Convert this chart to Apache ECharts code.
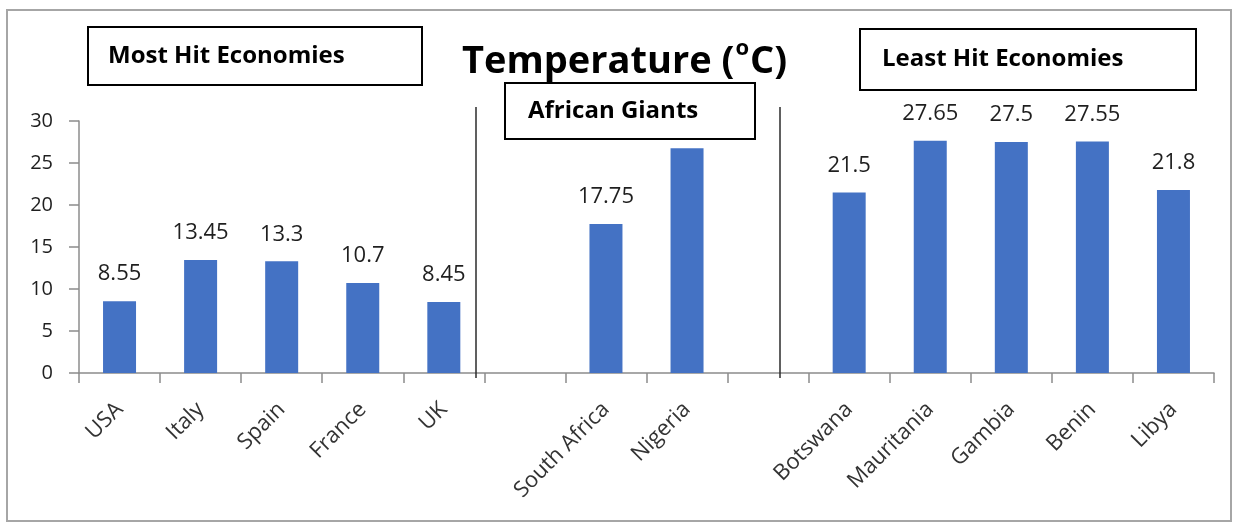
<!DOCTYPE html>
<html>
<head>
<meta charset="utf-8">
<title>Temperature (°C)</title>
<script src="https://cdn.jsdelivr.net/npm/echarts@6/dist/echarts.min.js"></script>
<style>
  html, body { margin: 0; padding: 0; background: #ffffff; }
  #chart { width: 1235px; height: 526px; }
</style>
</head>
<body>
<div id="chart"></div>
<script>
// Countries grouped into three blocks; empty strings leave a gap between blocks.
const categories = ['USA', 'Italy', 'Spain', 'France', 'UK', '', 'South Africa', 'Nigeria', '', 'Botswana', 'Mauritania', 'Gambia', 'Benin', 'Libya'];
// Average temperature (°C) per country; null where a gap sits.
const temperatures = [8.55, 13.45, 13.3, 10.7, 8.45, null, 17.75, 26.75, null, 21.5, 27.65, 27.5, 27.55, 21.8];
const yTicks = { min: 0, max: 30, step: 5 };
const groupNames = ['Most Hit Economies', 'African Giants', 'Least Hit Economies'];

const FONT = 'Open Sans';
const chart = echarts.init(document.getElementById('chart'), null, { renderer: 'canvas' });

// Framed group caption with a white fill, drawn above the bars and labels.
function box(x, y, w, h, label, tx) {
  return {
    type: 'group', z: 100,
    children: [
      { type: 'rect', shape: { x: x, y: y, width: w, height: h },
        style: { fill: '#ffffff', stroke: '#000000', lineWidth: 2 }, z: 100 },
      { type: 'text', x: x + tx, y: y + h / 2, z: 101,
        style: { text: label, font: 'bold 24px "' + FONT + '"', fill: '#000000', textVerticalAlign: 'middle' } }
    ]
  };
}

// Vertical separator between two groups of countries.
function divider(x) {
  return { type: 'line', z: 90, shape: { x1: x, y1: 107, x2: x, y2: 378 },
           style: { stroke: '#2b2b2b', lineWidth: 1.5 } };
}

chart.setOption({
  animation: false,
  backgroundColor: '#ffffff',
  textStyle: { fontFamily: FONT },
  title: {
    text: '{t|Temperature (}{s|o}{t|C)}',
    left: 457, top: 33,
    textStyle: {
      rich: {
        t: { fontFamily: FONT, fontWeight: 'bold', fontSize: 38, color: '#000000', lineHeight: 48 },
        s: { fontFamily: FONT, fontWeight: 'bold', fontSize: 22, color: '#000000', verticalAlign: 'top', lineHeight: 48, padding: [0, 1, 16, 1] }
      }
    }
  },
  grid: { left: 79, right: 21, top: 121, bottom: 153, containLabel: false },
  xAxis: {
    type: 'category',
    data: categories,
    boundaryGap: true,
    axisLine: { lineStyle: { color: '#8c8c8c', width: 1.5 } },
    axisTick: { show: true, length: 10, lineStyle: { color: '#8c8c8c', width: 1.5 } },
    axisLabel: { interval: 0, rotate: 45, margin: 33, fontSize: 22, color: '#333333', fontFamily: FONT }
  },
  yAxis: {
    type: 'value',
    min: yTicks.min, max: yTicks.max, interval: yTicks.step,
    splitLine: { show: false },
    axisLine: { show: true, lineStyle: { color: '#8c8c8c', width: 1.5 } },
    axisTick: { show: true, length: 10, lineStyle: { color: '#8c8c8c', width: 1.5 } },
    axisLabel: { margin: 26, fontSize: 20, color: '#1f1f1f', fontFamily: FONT }
  },
  series: [{
    type: 'bar',
    data: temperatures,
    barWidth: 33,
    itemStyle: { color: '#4472c4' },
    label: {
      show: true, position: 'top', distance: 16,
      fontSize: 22, color: '#1f1f1f', fontFamily: FONT
    }
  }],
  graphic: [
    { type: 'rect', z: 0, shape: { x: 7, y: 10, width: 1224, height: 511 },
      style: { fill: 'none', stroke: '#a6a6a6', lineWidth: 2 } },
    divider(476),
    divider(780),
    box(88, 27, 334, 58, groupNames[0], 20),
    box(505, 83, 250, 56, groupNames[1], 23),
    box(860, 29, 336, 61, groupNames[2], 22)
  ]
});
</script>
</body>
</html>
